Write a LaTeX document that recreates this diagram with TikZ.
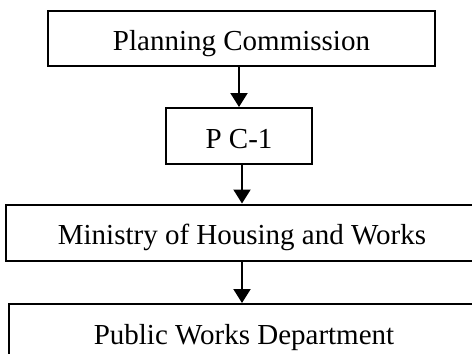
\documentclass[tikz,border=0pt]{standalone}
\usepackage{fontspec}
\setmainfont{Liberation Serif}
\usetikzlibrary{arrows.meta}

\begin{document}
\begin{tikzpicture}[x=0.5pt,y=0.5pt,yscale=-1,xscale=1,
  box/.style={draw, line width=1pt, inner sep=0pt, text height=12pt, text depth=0pt, font=\fontsize{14.5}{17}\selectfont},
  flow/.style={line width=1pt, -{Triangle[length=7pt,width=8.5pt]}}]
%set diagram frame: 472 x 354
\useasboundingbox (0,0) rectangle (472,354);

% Boxes
\node [box, minimum width=193.5pt, minimum height=27.5pt] (plan) at (241.5,38.5) {Planning Commission};
\node [box, minimum width=73pt, minimum height=28pt] (pcone) at (239,136) {P C-1};
\node [box, minimum width=236pt, minimum height=28pt] (mhw) at (242,232.5) {Ministry of Housing and Works};
\node [box, minimum width=235pt, minimum height=28pt] (pwd) at (244,332) {Public Works Department};

% Arrows
\draw [flow] (plan.south -| pcone.north) -- (pcone.north);
\draw [flow] (pcone.south -| mhw.north) -- (mhw.north);
\draw [flow] (mhw.south) -- (mhw.south |- pwd.north);

\end{tikzpicture}
\end{document}
